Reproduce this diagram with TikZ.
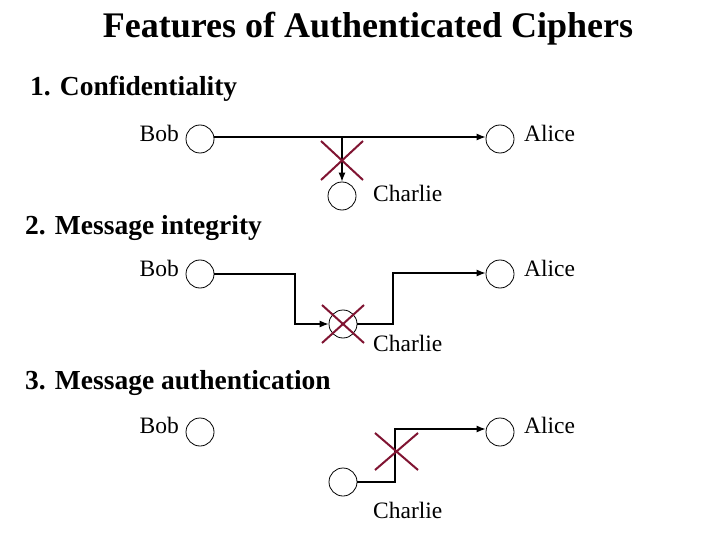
\documentclass[tikz,border=0pt]{standalone}
\usepackage{fontspec}
\setmainfont{Liberation Serif}
\definecolor{crossred}{RGB}{128,20,50}
\tikzset{
  x=1pt,y=-1pt,
  party/.style={draw,circle,minimum size=28pt,inner sep=0pt,line width=0.8pt},
  lbl/.style={font=\fontsize{23.5}{25}\selectfont,inner sep=0pt},
  head/.style={font=\bfseries\fontsize{27.5}{29}\selectfont,inner sep=0pt,anchor=west},
  msg/.style={line width=1.1pt,-{Latex[length=9pt,width=7pt]}},
  crossline/.style={draw=crossred,line width=2pt}
}
\usetikzlibrary{arrows.meta}
\begin{document}
\begin{tikzpicture}
\useasboundingbox[fill=white] (0,0) rectangle (720,540);
\node[font=\bfseries\fontsize{36}{38}\selectfont,inner sep=0pt] (title) at (368,29) {Features of Authenticated Ciphers};
% Section 1
\node[head] (h1) at (30,89) {1. Confidentiality};
\node[party] (b1) at (200,139) {};
\node[party] (a1) at (500,139) {};
\node[party] (c1) at (342,196) {};
\node[lbl,anchor=east] (bl1) at (179,133) {Bob};
\node[lbl,anchor=west] (al1) at (524,133) {Alice};
\node[lbl,anchor=west] (cl1) at (373,193) {Charlie};
\coordinate (j1) at (342,137);
\draw[msg] (b1.east |- j1) -- (a1.west |- j1);
\draw[msg] (j1) -- (c1.north);
\draw[crossline] (321,141) -- (363,180) (321,180) -- (363,141);
% Section 2
\node[head] (h2) at (25,228) {2. Message integrity};
\node[party] (b2) at (200,274) {};
\node[party] (a2) at (500,274) {};
\node[party] (c2) at (343,324) {};
\node[lbl,anchor=east] (bl2) at (179,268) {Bob};
\node[lbl,anchor=west] (al2) at (524,268) {Alice};
\node[lbl,anchor=west] (cl2) at (373,343) {Charlie};
\coordinate (p2a) at (295,274);
\coordinate (p2b) at (393,273);
\draw[msg] (b2.east) -- (p2a) |- (c2.west);
\draw[msg] (c2.east) -| (p2b) -- (a2.west |- p2b);
\draw[crossline] (322,305) -- (364,343) (322,343) -- (364,305);
% Section 3
\node[head] (h3) at (25,383) {3. Message authentication};
\node[party] (b3) at (200,432) {};
\node[party] (a3) at (500,432) {};
\node[party] (c3) at (343,482) {};
\node[lbl,anchor=east] (bl3) at (179,425) {Bob};
\node[lbl,anchor=west] (al3) at (524,425) {Alice};
\node[lbl,anchor=west] (cl3) at (373,510) {Charlie};
\coordinate (p3) at (395,429);
\draw[msg] (c3.east) -| (p3) -- (a3.west |- p3);
\draw[crossline] (375,433) -- (418,470) (375,470) -- (418,433);
\end{tikzpicture}
\end{document}
